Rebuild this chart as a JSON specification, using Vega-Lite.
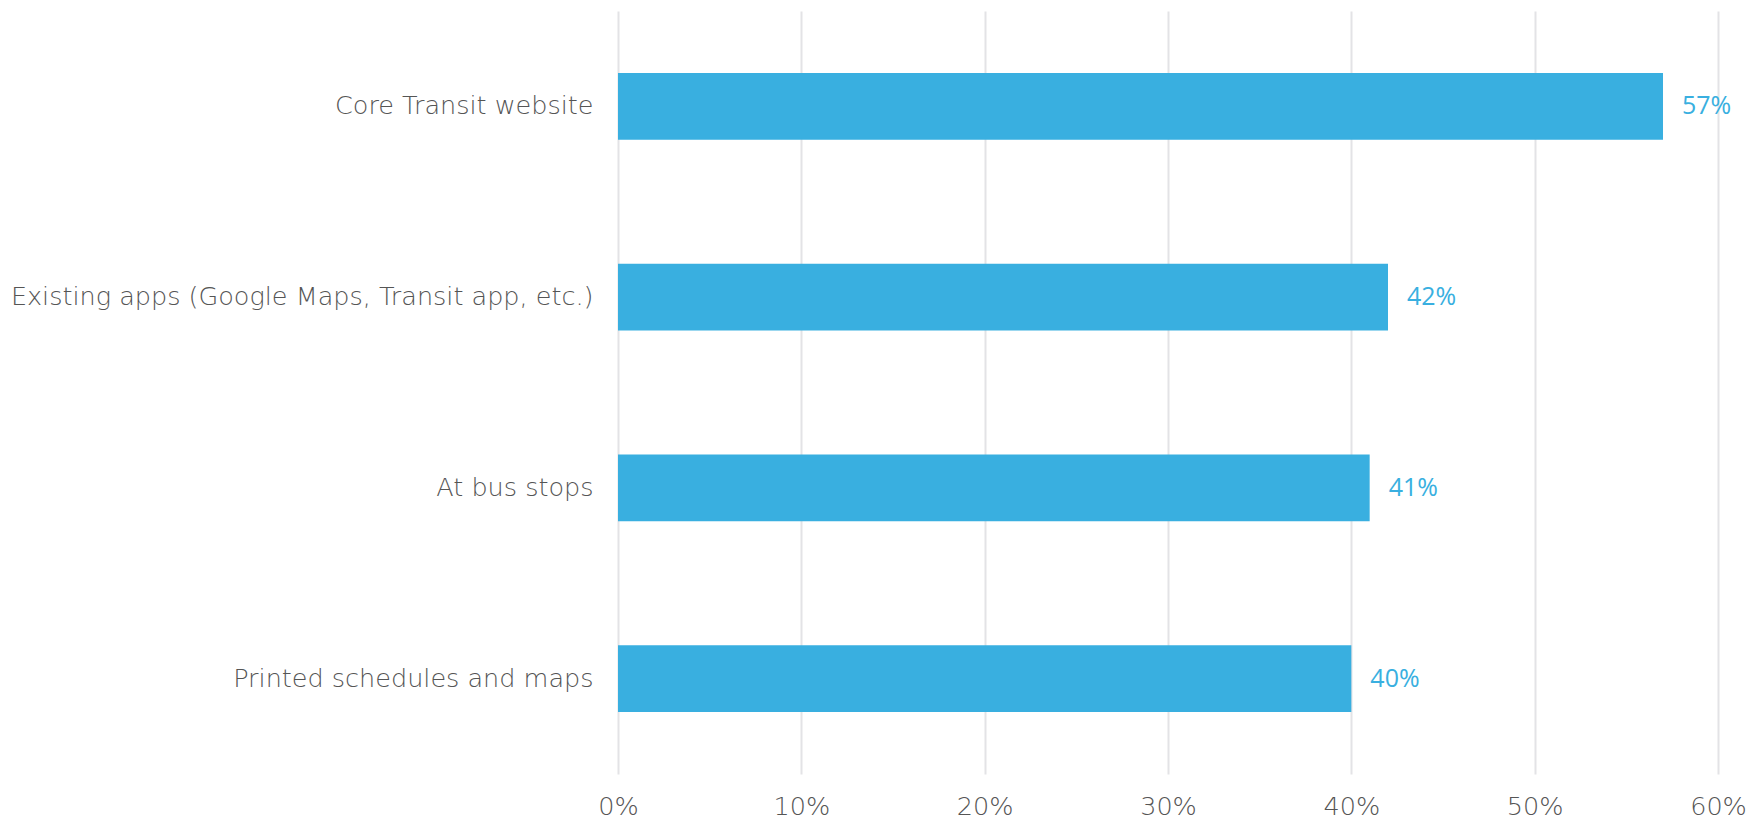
{
  "$schema": "https://vega.github.io/schema/vega-lite/v6.json",
  "autosize": {"type": "none"},
  "padding": {"left": 618, "top": 11, "right": 46, "bottom": 47},
  "width": 1100,
  "height": 763,
  "background": "white",
  "config": {"view": {"stroke": null}},
  "data": {"values": [
    {"category": "Core Transit website", "value": 0.57},
    {"category": "Existing apps (Google Maps, Transit app, etc.)", "value": 0.42},
    {"category": "At bus stops", "value": 0.41},
    {"category": "Printed schedules and maps", "value": 0.40}
  ]},
  "encoding": {
    "y": {"field": "category", "type": "nominal", "sort": null,
      "scale": {"paddingInner": 0.65, "paddingOuter": 0.325},
      "axis": {"title": null, "domain": false, "ticks": false, "grid": false,
        "labelFont": "DejaVu Sans", "labelFontWeight": 200, "labelFontSize": 25.5,
        "labelColor": "#555555", "labelPadding": 25, "labelLimit": 700}},
    "x": {"field": "value", "type": "quantitative",
      "scale": {"domain": [0, 0.6], "nice": false},
      "axis": {"title": null, "format": ".0%", "values": [0, 0.1, 0.2, 0.3, 0.4, 0.5, 0.6],
        "domain": false, "ticks": false, "grid": true, "gridColor": "#e3e3e6", "gridWidth": 2,
        "labelFlush": false, "labelOverlap": false,
        "labelFont": "DejaVu Sans", "labelFontWeight": 200, "labelFontSize": 25.5,
        "labelColor": "#555555", "labelPadding": 20}}
  },
  "layer": [
    {"mark": {"type": "bar", "color": "#39afe0"}},
    {"mark": {"type": "text", "align": "left", "baseline": "middle", "dx": 19,
      "font": "Open Sans", "fontSize": 25, "color": "#39afe0"},
     "encoding": {"text": {"field": "value", "type": "quantitative", "format": ".0%"}}}
  ]
}
